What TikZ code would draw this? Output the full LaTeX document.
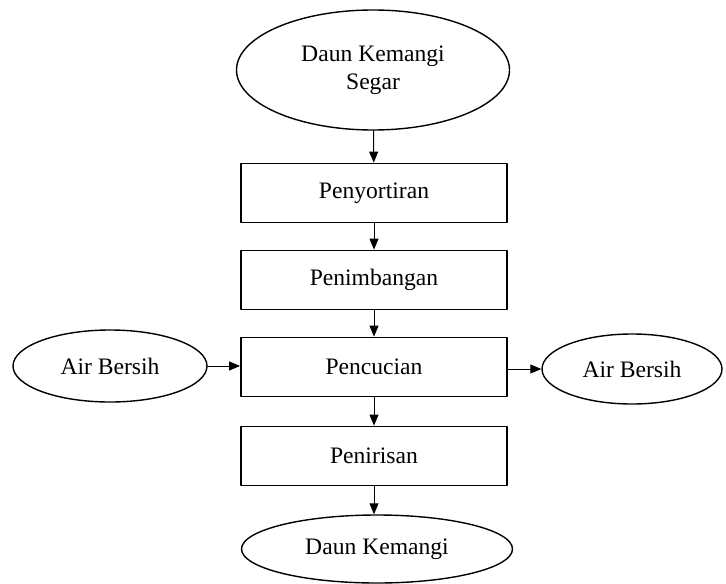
\documentclass[tikz,border=0pt]{standalone}
\usepackage{fontspec}
\setmainfont{Liberation Serif}
\usetikzlibrary{shapes.geometric,arrows.meta}
\begin{document}
\begin{tikzpicture}[x=0.5pt, y=-0.5pt, line cap=round, line join=round, font=\fontsize{11.8}{14}\selectfont, >={Triangle[length=5.5pt,width=4.5pt]}]
			\tikzset{proses/.style={draw, line width=0.9pt, minimum width=133pt, minimum height=29.5pt, inner sep=0pt},
				bahan/.style={draw, ellipse, line width=0.7pt, inner sep=0pt, align=center},
				panah/.style={->, line width=0.5pt}}
			\useasboundingbox (0,0) rectangle (726,583);
			\node[bahan, minimum width=136.5pt, minimum height=60pt] (segar) at (373,70) {Daun Kemangi\\Segar};
			\node[proses] (sortir) at (374,193) {Penyortiran};
			\node[proses] (timbang) at (374,280) {Penimbangan};
			\node[proses] (cuci) at (374,367) {Pencucian};
			\node[proses] (tiris) at (374,456) {Penirisan};
			\node[bahan, minimum width=135.5pt, minimum height=34pt] (hasil) at (377,549) {Daun Kemangi};
			\node[bahan, minimum width=97pt, minimum height=36pt] (airA) at (110,366) {Air Bersih};
			\node[bahan, minimum width=90pt, minimum height=35pt] (airB) at (632,369) {Air Bersih};
			\draw[panah] (segar) -- (sortir);
			\draw[panah] (sortir) -- (timbang);
			\draw[panah] (timbang) -- (cuci);
			\draw[panah] (cuci) -- (tiris);
			\draw[panah] (tiris) -- (hasil.north -| tiris);
			\draw[panah] (airA.east) -- (airA.east -| cuci.west);
			\draw[panah] (cuci.east |- airB.west) -- (airB.west);
		\end{tikzpicture}
\end{document}
